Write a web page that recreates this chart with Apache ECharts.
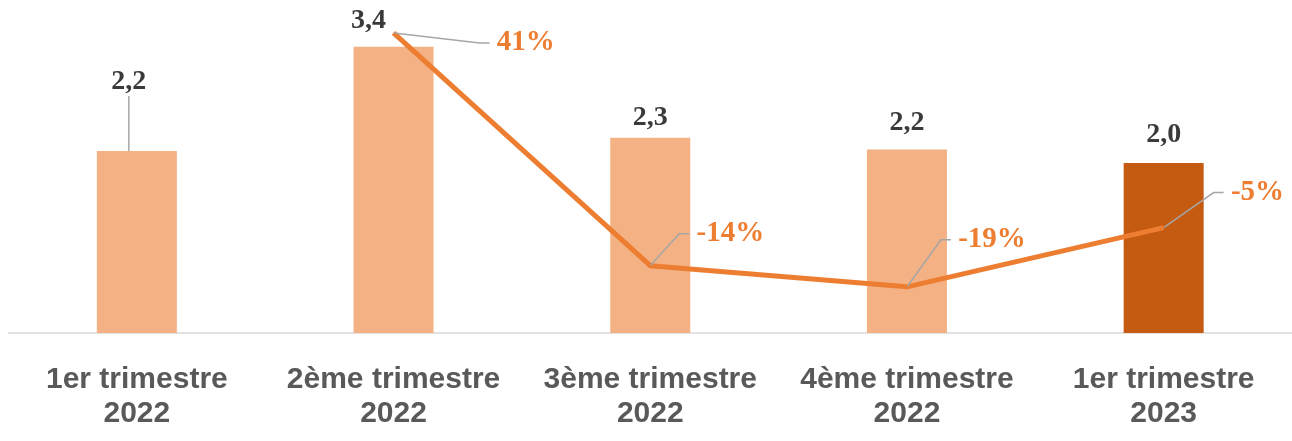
<!DOCTYPE html>
<html>
<head>
<meta charset="utf-8">
<script src="https://cdn.jsdelivr.net/npm/echarts@6/dist/echarts.min.js"></script>
<style>
html, body { margin: 0; padding: 0; background: #fff; }
#main { width: 1292px; height: 441px; }
</style>
</head>
<body>
<div id="main"></div>
<script>
var quarters = ['1er trimestre\n2022', '2ème trimestre\n2022', '3ème trimestre\n2022', '4ème trimestre\n2022', '1er trimestre\n2023'];
var amounts = [2.16, 3.4, 2.32, 2.18, 2.02];
var changes = ['-', 41, -14, -19, -5];
var barColors = ['#F4B183', '#F4B183', '#F4B183', '#F4B183', '#C55A11'];

// label nudges in px, from bar top centre / from line point
var barLabelShift = [[-8, -69], [-25, -26], [0, -20], [0, -27], [0, -28]];
var lineLabelShift = [[0, 0], [103, 10], [46, -32], [51, -47], [67, -35]];

var serif = '"Liberation Serif", "Times New Roman", serif';
var guide = { color: '#A6A6A6', width: 1.5 };

var myChart = echarts.init(document.getElementById('main'));
var option = {
    animation: false,
    grid: {
        left: 8.5,
        right: 0,
        top: 13,
        bottom: 108,
        containLabel: false,
        outerBoundsMode: 'none'
    },
    xAxis: {
        type: 'category',
        data: quarters,
        axisLine: { lineStyle: { color: '#D9D9D9', width: 1.5 } },
        axisTick: { show: false },
        axisLabel: {
            interval: 0,
            margin: 30,
            color: '#595959',
            fontFamily: '"Liberation Sans", Arial, sans-serif',
            fontWeight: 'bold',
            fontSize: 30,
            lineHeight: 34
        }
    },
    yAxis: [
        { type: 'value', min: 0, max: 3.8, show: false },
        { type: 'value', min: -29.9, max: 45.7, show: false }
    ],
    series: [{
        type: 'bar',
        barWidth: 80,
        data: amounts.map(function (v, i) {
            return {
                value: v,
                itemStyle: { color: barColors[i] },
                labelLine: { show: i === 0 }
            };
        }),
        label: {
            show: true,
            position: 'top',
            color: '#3A3A3A',
            fontFamily: serif,
            fontWeight: 'bold',
            fontSize: 28,
            formatter: function (p) {
                return p.value.toFixed(1).replace('.', ',');
            }
        },
        labelLine: { show: false, length2: 0, lineStyle: guide },
        labelLayout: function (p) {
            var s = barLabelShift[p.dataIndex];
            return {
                x: p.rect.x + p.rect.width / 2 + s[0],
                y: p.rect.y + s[1],
                align: 'center',
                verticalAlign: 'middle'
            };
        }
    }, {
        type: 'line',
        yAxisIndex: 1,
        data: changes,
        z: 3,
        symbol: 'circle',
        symbolSize: 1,
        showSymbol: true,
        lineStyle: { color: '#ED7D31', width: 5 },
        itemStyle: { color: '#ED7D31' },
        label: {
            show: true,
            color: '#ED7D31',
            fontFamily: serif,
            fontWeight: 'bold',
            fontSize: 29,
            formatter: function (p) {
                // leading space leaves a small gap after the guide line
                return ' ' + p.value + '%';
            }
        },
        labelLine: { show: true, length2: 10, lineStyle: guide },
        labelLayout: function (p) {
            var s = lineLabelShift[p.dataIndex];
            return {
                x: p.rect.x + p.rect.width / 2 + s[0] - 7,
                y: p.rect.y + p.rect.height / 2 + s[1],
                align: 'left',
                verticalAlign: 'middle'
            };
        }
    }]
};

myChart.setOption(option);
</script>
</body>
</html>
